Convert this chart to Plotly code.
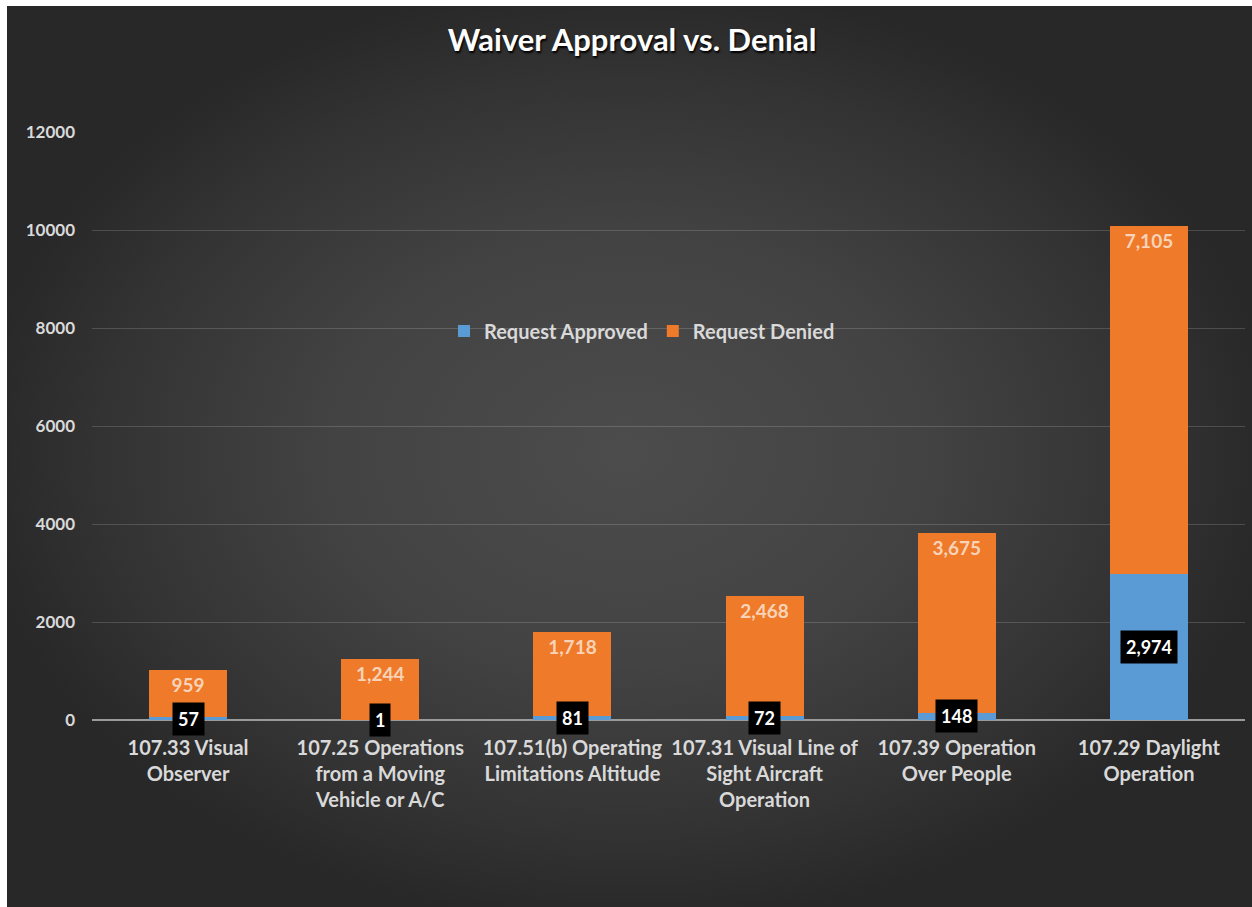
import plotly.graph_objects as go

# ---- data ----
categories = [
    "107.33 Visual<br>Observer",
    "107.25 Operations<br>from a Moving<br>Vehicle or A/C",
    "107.51(b) Operating<br>Limitations Altitude",
    "107.31 Visual Line of<br>Sight Aircraft<br>Operation",
    "107.39 Operation<br>Over People",
    "107.29 Daylight<br>Operation",
]
approved = [57, 1, 81, 72, 148, 2974]
denied = [959, 1244, 1718, 2468, 3675, 7105]
series_names = ["Request Approved", "Request Denied"]
y_ticks = [0, 2000, 4000, 6000, 8000, 10000, 12000]

W, H = 1252, 907
FONT = "Lato"
LIGHT = "#d9d9d9"

fig = go.Figure()

# background panel with radial gradient (decoration on a full-paper helper axis)
fig.add_trace(go.Scatter(
    x=[-0.02, 1.02, 1.02, -0.02, -0.02], y=[-0.02, -0.02, 1.02, 1.02, -0.02],
    xaxis="x", yaxis="y", mode="lines", line=dict(width=0),
    fill="toself",
    fillgradient=dict(type="radial",
                      colorscale=[[0, "#4c4c4c"], [0.45, "#434343"], [0.8, "#333333"], [1, "#282828"]]),
    hoverinfo="skip", showlegend=False,
))

fig.add_trace(go.Bar(
    x=categories, y=approved, name=series_names[0],
    marker=dict(color="#5b9bd5", line=dict(width=0)),
    xaxis="x2", yaxis="y2",
))
fig.add_trace(go.Bar(
    x=categories, y=denied, name=series_names[1],
    marker=dict(color="#ee7a2a", line=dict(width=0)),
    texttemplate="%{y:,}", textposition="inside", insidetextanchor="end",
    textangle=0, constraintext="none",
    textfont=dict(family=FONT, size=19, color="#f8d3b8", weight="bold"),
    xaxis="x2", yaxis="y2",
))

for c, v in zip(categories, approved):
    fig.add_annotation(
        x=c, y=v / 2, xref="x2", yref="y2", text=f"{v:,}", showarrow=False,
        bgcolor="black", borderpad=5,
        font=dict(family=FONT, size=18, color="white", weight="bold"),
    )

# white page border strips (left and top) as in the reference screenshot
fig.add_shape(type="rect", xref="paper", yref="paper", x0=0, x1=7 / W, y0=0, y1=1,
              fillcolor="white", line=dict(width=0), layer="above")
fig.add_shape(type="rect", xref="paper", yref="paper", x0=0, x1=1, y0=(H - 6) / H, y1=1,
              fillcolor="white", line=dict(width=0), layer="above")

x0, x1 = 92 / W, 1245 / W
y0, y1 = (H - 720) / H, (H - 132) / H

fig.update_layout(
    width=W, height=H,
    margin=dict(l=0, r=0, t=0, b=0),
    paper_bgcolor="#282828",
    plot_bgcolor="rgba(0,0,0,0)",
    barmode="stack",
    bargap=0.594,
    showlegend=True,
    title=dict(
        text="Waiver Approval vs. Denial", x=632 / W, xanchor="center",
        y=(H - 40) / H, yanchor="middle", yref="paper",
        font=dict(family=FONT, size=31, color="white", weight="bold",
                  shadow="1px 2px 2px #000"),
    ),
    legend=dict(
        orientation="h", x=642 / W, xanchor="center", y=(H - 331) / H, yanchor="middle",
        bgcolor="rgba(0,0,0,0)", font=dict(family=FONT, size=20, color=LIGHT, weight="bold"),
        traceorder="normal", itemwidth=30,
    ),
    xaxis=dict(domain=[0, 1], range=[0, 1], visible=False, fixedrange=True),
    yaxis=dict(domain=[0, 1], range=[0, 1], visible=False, fixedrange=True),
    xaxis2=dict(
        domain=[x0, x1], anchor="y2", showgrid=False, showline=False, ticks="",
        tickfont=dict(family=FONT, size=20, color=LIGHT, weight="bold"),
        ticklabelstandoff=14, automargin=False,
    ),
    yaxis2=dict(
        domain=[y0, y1], anchor="x2", range=[0, 12000], tickvals=y_ticks,
        tickformat="d", showgrid=True, gridcolor="rgba(255,255,255,0.16)", gridwidth=1,
        zeroline=True, zerolinecolor="#9a9a9a", zerolinewidth=1.5,
        showline=False, ticks="",
        tickfont=dict(family=FONT, size=17, color=LIGHT, weight="bold"),
        ticklabelstandoff=16, automargin=False,
    ),
)

fig.write_html("out.html", config={"displayModeBar": False},
               post_script="document.body.style.margin='0';"
                           "document.body.style.background='#272727';"
                           "document.documentElement.style.background='#272727';")
